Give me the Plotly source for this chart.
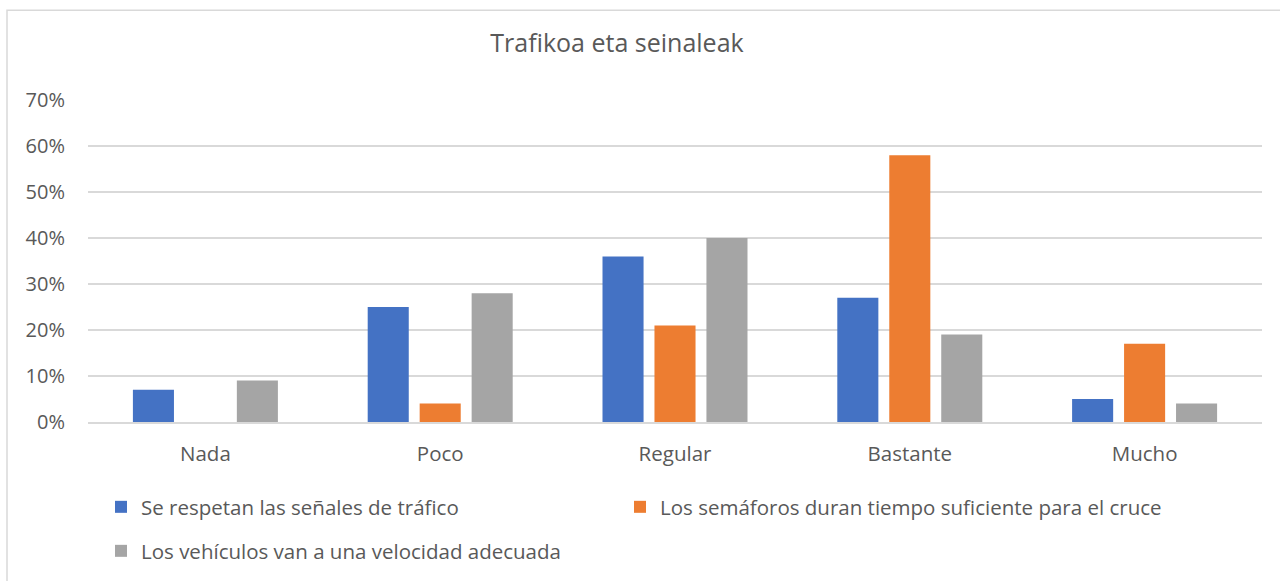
import plotly.graph_objects as go

categories = ["Nada", "Poco", "Regular", "Bastante", "Mucho"]
series_names = [
    "Se respetan las señales de tráfico",
    "Los semáforos duran tiempo suficiente para el cruce",
    "Los vehículos van a una velocidad adecuada",
]
senales = [0.07, 0.25, 0.36, 0.27, 0.05]
semaforos = [0.0, 0.04, 0.21, 0.58, 0.17]
vehiculos = [0.09, 0.28, 0.40, 0.19, 0.04]
colors = ["#4472C4", "#ED7D31", "#A5A5A5"]
tick_vals = [0, 0.1, 0.2, 0.3, 0.4, 0.5, 0.6, 0.7]
tick_text = ["0%", "10%", "20%", "30%", "40%", "50%", "60%", "70%"]

FONT = "Open Sans"
TXT = "#595959"

W, H = 1280, 581
L, R, T, B = 88, 18, 100, 158
pw = W - L - R
ph = H - T - B

def px2paper_x(px):
    return (px - L) / pw

def px2paper_y(py):
    return (H - B - py) / ph

fig = go.Figure()
legends = ["legend", "legend2", "legend3"]
for name, vals, col, lg in zip(series_names, [senales, semaforos, vehiculos], colors, legends):
    fig.add_trace(go.Bar(x=categories, y=vals, name=name, legend=lg,
                         marker=dict(color=col, line=dict(width=0))))

leg_common = dict(orientation="h", xanchor="left", yanchor="middle",
                  font=dict(size=20.5, color=TXT, family=FONT),
                  bgcolor="rgba(0,0,0,0)")

fig.update_layout(
    width=W, height=H,
    margin=dict(l=L, r=R, t=T, b=B),
    paper_bgcolor="white", plot_bgcolor="white",
    font=dict(family=FONT, color=TXT, size=18),
    title=dict(text="Trafikoa eta seinaleak", x=617 / W, xanchor="center", y=1 - 43 / H, yanchor="middle",
               font=dict(size=25, color=TXT, family=FONT)),
    barmode="group", bargap=0.336, bargroupgap=0.21,
    xaxis=dict(showgrid=False, showline=True, linecolor="#D9D9D9", linewidth=1.5, ticks="",
               ticklabelstandoff=13, tickfont=dict(size=20.5, color=TXT)),
    yaxis=dict(range=[0, 0.7], tickvals=tick_vals, ticktext=tick_text, showgrid=True, gridcolor="#D9D9D9",
               gridwidth=1.5, zeroline=False, showline=False, ticks="", ticklabelstandoff=22,
               tickfont=dict(size=20, color=TXT)),
    showlegend=True,
    legend=dict(x=px2paper_x(101), y=px2paper_y(507), **leg_common),
    legend2=dict(x=px2paper_x(620), y=px2paper_y(507), **leg_common),
    legend3=dict(x=px2paper_x(101), y=px2paper_y(551), **leg_common),
    shapes=[dict(type="rect", xref="paper", yref="paper",
                 x0=px2paper_x(7), x1=px2paper_x(1290), y0=px2paper_y(595), y1=px2paper_y(10),
                 line=dict(color="#D9D9D9", width=1.5), layer="below")],
)

fig.write_html("out.html", config={"displayModeBar": False},
               post_script="document.body.style.margin='0';document.body.style.overflow='hidden';")
